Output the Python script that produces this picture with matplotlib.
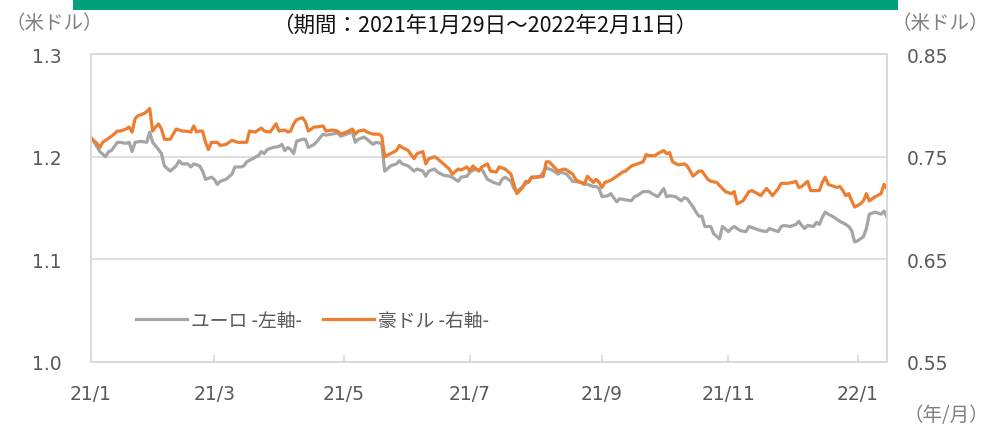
import matplotlib.pyplot as plt
from matplotlib.patches import Rectangle

plt.rcParams['font.family'] = ['Noto Sans CJK JP', 'DejaVu Sans']

# trading-day index (0 = 2021/1/29) and rates
euro_day = [0, 2, 3, 5, 6, 7, 9, 10, 12, 13, 14, 15, 17, 19, 20, 21, 23, 24, 25, 27,
            29, 30, 31, 33, 34, 35, 37, 38, 39, 41, 42, 43, 44, 46, 48, 49, 51, 52, 53, 55,
            57, 58, 59, 60, 62, 64, 65, 66, 67, 68, 69, 70, 72, 73, 74, 76, 77, 79, 80, 82,
            84, 85, 87, 89, 90, 91, 93, 94, 96, 97, 99, 100, 102, 104, 105, 106, 108, 110, 111, 113,
            114, 115, 117, 118, 120, 122, 123, 125, 126, 128, 129, 131, 132, 133, 135, 137, 139, 140, 141, 143,
            144, 145, 147, 149, 150, 153, 155, 157, 159, 160, 162, 164, 167, 169, 171, 172, 173, 174, 176, 177,
            179, 180, 182, 184, 185, 186, 188, 190, 191, 193, 195, 196, 197, 199, 201, 202, 203, 205, 206, 207,
            208, 209, 211, 212, 214, 215, 217, 218, 219, 221, 223, 224, 226, 228, 230, 231, 232, 234, 235, 236,
            238, 240, 241, 242, 243, 244, 246, 247, 248, 249, 250, 251, 253, 255, 257, 258, 259, 260, 261, 263,
            264, 265, 267, 269, 270, 271]
euro = [1.219, 1.210, 1.205, 1.200, 1.205, 1.206, 1.214, 1.214, 1.213, 1.214, 1.205, 1.214, 1.215, 1.214, 1.224, 1.214, 1.207, 1.203, 1.191, 1.186,
        1.191, 1.196, 1.193, 1.193, 1.190, 1.193, 1.191, 1.186, 1.178, 1.180, 1.178, 1.173, 1.176, 1.178, 1.183, 1.190, 1.190, 1.191, 1.195, 1.198,
        1.201, 1.205, 1.203, 1.207, 1.209, 1.210, 1.212, 1.206, 1.209, 1.207, 1.203, 1.215, 1.217, 1.217, 1.209, 1.212, 1.215, 1.222, 1.221, 1.222,
        1.223, 1.220, 1.222, 1.224, 1.214, 1.217, 1.219, 1.217, 1.212, 1.214, 1.213, 1.186, 1.191, 1.193, 1.196, 1.193, 1.191, 1.186, 1.188, 1.186,
        1.181, 1.186, 1.188, 1.185, 1.182, 1.181, 1.180, 1.176, 1.180, 1.181, 1.185, 1.188, 1.187, 1.188, 1.178, 1.175, 1.173, 1.178, 1.180, 1.176,
        1.169, 1.166, 1.171, 1.176, 1.180, 1.181, 1.189, 1.187, 1.183, 1.185, 1.183, 1.176, 1.175, 1.173, 1.171, 1.171, 1.169, 1.161, 1.162, 1.164,
        1.156, 1.159, 1.158, 1.157, 1.161, 1.162, 1.166, 1.166, 1.164, 1.161, 1.169, 1.161, 1.162, 1.161, 1.157, 1.160, 1.159, 1.151, 1.146, 1.142,
        1.142, 1.132, 1.132, 1.125, 1.120, 1.132, 1.127, 1.130, 1.132, 1.128, 1.127, 1.132, 1.130, 1.128, 1.127, 1.130, 1.129, 1.127, 1.132, 1.133,
        1.132, 1.134, 1.137, 1.133, 1.130, 1.133, 1.132, 1.136, 1.134, 1.141, 1.146, 1.144, 1.141, 1.137, 1.134, 1.132, 1.128, 1.117, 1.118, 1.122,
        1.130, 1.144, 1.146, 1.144, 1.147, 1.141]

aud_day = [0, 2, 3, 4, 5, 7, 9, 10, 12, 13, 14, 15, 16, 18, 19, 20, 21, 22, 23, 24,
           25, 27, 28, 29, 31, 32, 34, 35, 36, 37, 38, 39, 40, 41, 43, 44, 46, 47, 48, 50,
           52, 53, 54, 56, 58, 59, 61, 63, 64, 66, 67, 68, 69, 70, 72, 73, 74, 76, 77, 79,
           80, 82, 84, 85, 87, 89, 90, 91, 93, 94, 96, 98, 99, 100, 102, 104, 105, 106, 108, 110,
           111, 113, 114, 115, 117, 118, 120, 122, 123, 125, 126, 128, 129, 130, 132, 133, 135, 136, 138, 139,
           141, 143, 144, 145, 147, 148, 149, 150, 152, 154, 155, 156, 157, 159, 161, 162, 164, 165, 166, 168,
           169, 171, 172, 173, 174, 175, 177, 178, 179, 181, 182, 184, 186, 188, 189, 190, 192, 193, 195, 196,
           197, 198, 200, 202, 203, 204, 205, 207, 208, 210, 211, 213, 215, 216, 218, 219, 220, 222, 224, 225,
           227, 228, 230, 231, 232, 234, 235, 237, 239, 240, 241, 242, 244, 245, 246, 248, 249, 250, 251, 253,
           254, 255, 256, 257, 258, 259, 260, 262, 263, 264, 265, 267, 269, 270, 271]
aud = [0.768, 0.763, 0.759, 0.764, 0.766, 0.770, 0.775, 0.775, 0.777, 0.779, 0.774, 0.787, 0.790, 0.792, 0.794, 0.797, 0.775, 0.779, 0.782, 0.777,
       0.767, 0.767, 0.772, 0.777, 0.775, 0.775, 0.774, 0.780, 0.774, 0.775, 0.775, 0.764, 0.757, 0.764, 0.764, 0.761, 0.762, 0.764, 0.766, 0.764,
       0.764, 0.764, 0.775, 0.774, 0.778, 0.775, 0.774, 0.782, 0.775, 0.776, 0.774, 0.775, 0.782, 0.786, 0.788, 0.784, 0.775, 0.779, 0.779, 0.780,
       0.775, 0.776, 0.775, 0.772, 0.774, 0.777, 0.772, 0.775, 0.776, 0.774, 0.772, 0.772, 0.770, 0.750, 0.753, 0.756, 0.761, 0.759, 0.756, 0.748,
       0.753, 0.755, 0.743, 0.748, 0.750, 0.748, 0.743, 0.738, 0.733, 0.738, 0.737, 0.740, 0.736, 0.741, 0.736, 0.740, 0.743, 0.736, 0.735, 0.740,
       0.738, 0.733, 0.723, 0.714, 0.720, 0.726, 0.725, 0.730, 0.730, 0.731, 0.745, 0.745, 0.742, 0.736, 0.738, 0.737, 0.733, 0.728, 0.726, 0.723,
       0.731, 0.725, 0.728, 0.725, 0.720, 0.725, 0.727, 0.729, 0.731, 0.735, 0.736, 0.741, 0.743, 0.745, 0.752, 0.751, 0.751, 0.753, 0.756, 0.753,
       0.754, 0.745, 0.742, 0.743, 0.741, 0.736, 0.731, 0.736, 0.736, 0.728, 0.726, 0.725, 0.719, 0.716, 0.714, 0.716, 0.704, 0.707, 0.716, 0.717,
       0.714, 0.712, 0.719, 0.716, 0.712, 0.719, 0.724, 0.724, 0.725, 0.726, 0.720, 0.721, 0.726, 0.717, 0.717, 0.717, 0.725, 0.730, 0.723, 0.721,
       0.720, 0.721, 0.717, 0.712, 0.714, 0.707, 0.701, 0.704, 0.707, 0.714, 0.707, 0.711, 0.714, 0.723, 0.719]

tick_days = [0, 42, 86, 129, 174, 217, 261]
tick_labels = ['21/1', '21/3', '21/5', '21/7', '21/9', '21/11', '22/1']

grid_c = '#d9d9d9'
text_c = '#595959'

fig = plt.figure(figsize=(9.91, 4.27), dpi=100)
ax = fig.add_axes([0.0918, 0.150, 0.8032, 0.721])
ax2 = ax.twinx()

ax.plot(euro_day, euro, color='#a5a5a5', lw=2.3, label='ユーロ -左軸-', solid_joinstyle='round')
ax2.plot(aud_day, aud, color='#ed7d31', lw=2.3, label='豪ドル -右軸-', solid_joinstyle='round')

ax.set_xlim(0, 271)
ax.set_ylim(1.0, 1.3)
ax2.set_ylim(0.55, 0.85)
ax.set_yticks([1.0, 1.1, 1.2, 1.3])
ax.set_yticklabels(['1.0', '1.1', '1.2', '1.3'], family='DejaVu Sans')
ax2.set_yticks([0.55, 0.65, 0.75, 0.85])
ax2.set_yticklabels(['0.55', '0.65', '0.75', '0.85'], family='DejaVu Sans')
ax.set_xticks(tick_days)
ax.set_xticklabels(tick_labels, family='DejaVu Sans')

ax.grid(axis='y', color=grid_c, lw=1.2)
ax.set_axisbelow(True)
for a in (ax, ax2):
    for s in a.spines.values():
        s.set_color(grid_c)
        s.set_linewidth(1.2)
ax.tick_params(axis='y', length=0, pad=21, labelsize=13.5, labelcolor=text_c)
ax2.tick_params(axis='y', length=0, pad=14, labelsize=13.5, labelcolor=text_c)
ax.tick_params(axis='x', direction='in', length=5, color=grid_c, width=1.2,
               pad=16, labelsize=13.5, labelcolor=text_c)

h1, l1 = ax.get_legend_handles_labels()
h2, l2 = ax2.get_legend_handles_labels()
ax.legend(h1 + h2, l1 + l2, loc='center left', bbox_to_anchor=(0.035, 0.135), ncol=2,
          frameon=False, fontsize=13.5, labelcolor=text_c, handlelength=2.75,
          handletextpad=0.2, columnspacing=1.1)

fig.add_artist(Rectangle((73 / 991, 1 - 11 / 427), 825 / 991, 11 / 427,
                         transform=fig.transFigure, color='#00a07a', lw=0))
fig.text(0.489, 0.939, '（期間：2021年1月29日～2022年2月11日）', ha='center', va='center',
         fontsize=15.5, color='#111111')
fig.text(0.006, 0.944, '（米ドル）', ha='left', va='center', fontsize=14, color='#7f7f7f')
fig.text(0.998, 0.944, '（米ドル）', ha='right', va='center', fontsize=14, color='#7f7f7f')
fig.text(0.998, 0.027, '（年/月）', ha='right', va='center', fontsize=14, color='#7f7f7f')

fig.savefig('out.png', dpi=100)
